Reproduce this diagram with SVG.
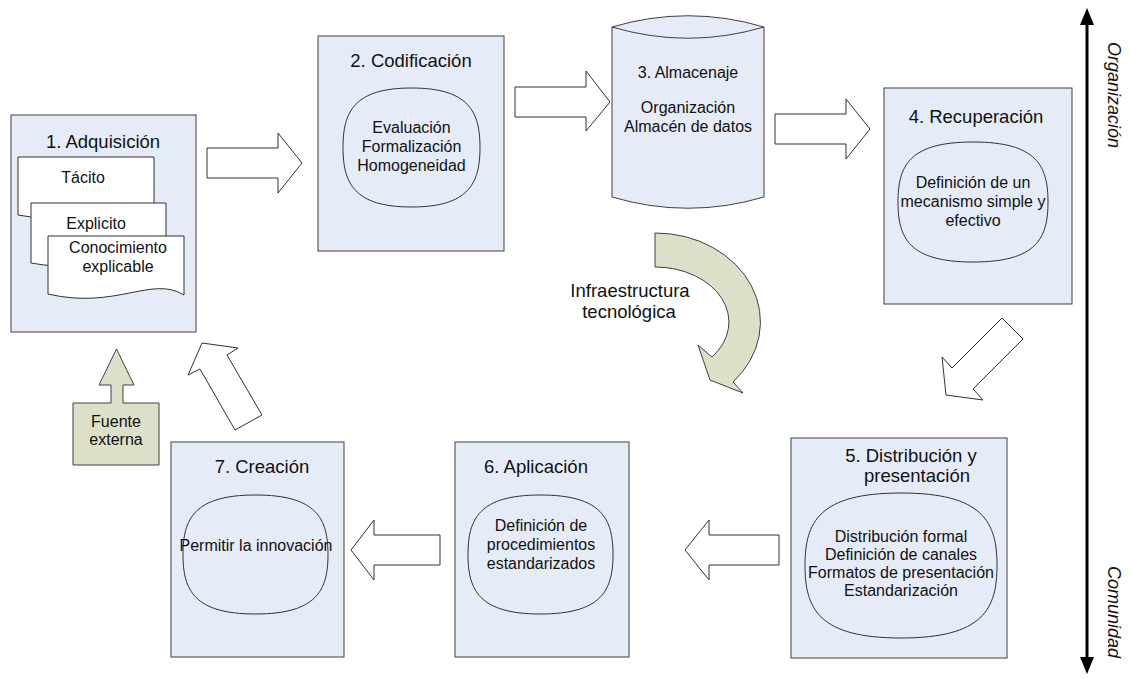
<svg xmlns="http://www.w3.org/2000/svg" width="1131" height="679" viewBox="0 0 1131 679">
  <style>
    .box { fill: #e6ecf7; stroke: #404040; stroke-width: 1; }
    .oval { fill: #e6ecf7; stroke: #303030; stroke-width: 1; }
    .doc { fill: #ffffff; stroke: #303030; stroke-width: 1; }
    .blk { fill: #ffffff; stroke: #303030; stroke-width: 1; stroke-linejoin: miter; }
    .sage { fill: #dde0c8; stroke: #404040; stroke-width: 1; }
    text { font-family: "Liberation Sans", Arial, sans-serif; fill: #111111; text-anchor: middle; }
    .title { font-size: 18.5px; }
    .body { font-size: 16px; }
    .axis { font-size: 18px; font-style: italic; }
  </style>

  <!-- 1. Adquisición -->
  <g id="n1-adquisicion">
    <rect class="box" x="11" y="115" width="185" height="217"/>
    <text class="title" x="103" y="148">1. Adquisición</text>
    <path class="doc" d="M18,157 H154 V213 C122,193 86,228 18,215 Z"/>
    <text class="body" x="83" y="183">Tácito</text>
    <path class="doc" d="M31,203 H166 V261 C134,241 98,276 31,263 Z"/>
    <text class="body" x="96" y="229">Explicito</text>
    <path class="doc" d="M48,236 H184 V295 C152,275 116,310 48,294 Z"/>
    <text class="body" x="118" y="253">Conocimiento</text>
    <text class="body" x="118" y="272">explicable</text>
  </g>

  <!-- 2. Codificación -->
  <g id="n2-codificacion">
    <rect class="box" x="318" y="36" width="186" height="215"/>
    <text class="title" x="411" y="67">2. Codificación</text>
    <path class="oval" d="M411.5,88 C469,88 480,112 480,147.5 C480,183 469,207 411.5,207 C354,207 343,183 343,147.5 C343,112 354,88 411.5,88 Z"/>
    <text class="body" x="411.5" y="133">Evaluación</text>
    <text class="body" x="411.5" y="152">Formalización</text>
    <text class="body" x="411.5" y="171">Homogeneidad</text>
  </g>

  <!-- 3. Almacenaje (cylinder) -->
  <g id="n3-almacenaje">
    <path class="box" d="M612,27 A268,268 0 0 1 764,27 V197 A268,268 0 0 1 612,197 Z"/>
    <path fill="none" stroke="#404040" stroke-width="1" d="M612,27 A268,268 0 0 0 764,27"/>
    <text class="body" x="688" y="78">3. Almacenaje</text>
    <text class="body" x="688" y="113">Organización</text>
    <text class="body" x="688" y="132">Almacén de datos</text>
  </g>

  <!-- 4. Recuperación -->
  <g id="n4-recuperacion">
    <rect class="box" x="884" y="88" width="188" height="216"/>
    <text class="title" x="976" y="123">4. Recuperación</text>
    <path class="oval" d="M973,142 C1037,142 1048,166 1048,202 C1048,238 1037,262 973,262 C909,262 898,238 898,202 C898,166 909,142 973,142 Z"/>
    <text class="body" x="973" y="188">Definición de un</text>
    <text class="body" x="973" y="207">mecanismo simple y</text>
    <text class="body" x="973" y="226">efectivo</text>
  </g>

  <!-- 5. Distribución y presentación -->
  <g id="n5-distribucion">
    <rect class="box" x="791" y="438" width="216" height="220"/>
    <text class="title" x="911" y="462">5. Distribución y</text>
    <text class="title" x="917" y="482">presentación</text>
    <path class="oval" d="M901,493 C983,493 997,522 997,565.5 C997,609 983,638 901,638 C819,638 805,609 805,565.5 C805,522 819,493 901,493 Z"/>
    <text class="body" x="901" y="542">Distribución formal</text>
    <text class="body" x="901" y="560">Definición de canales</text>
    <text class="body" x="901" y="578">Formatos de presentación</text>
    <text class="body" x="901" y="596">Estandarización</text>
  </g>

  <!-- 6. Aplicación -->
  <g id="n6-aplicacion">
    <rect class="box" x="455" y="442" width="174" height="215"/>
    <text class="title" x="536" y="473">6. Aplicación</text>
    <path class="oval" d="M540.5,495 C602,495 613,519 613,554.5 C613,590 602,614 540.5,614 C479,614 468,590 468,554.5 C468,519 479,495 540.5,495 Z"/>
    <text class="body" x="541" y="531">Definición de</text>
    <text class="body" x="541" y="550">procedimientos</text>
    <text class="body" x="541" y="569">estandarizados</text>
  </g>

  <!-- 7. Creación -->
  <g id="n7-creacion">
    <rect class="box" x="171" y="442" width="173" height="215"/>
    <text class="title" x="262" y="473">7. Creación</text>
    <path class="oval" d="M255.5,495 C317,495 328,519 328,554.5 C328,590 317,614 255.5,614 C194,614 183,590 183,554.5 C183,519 194,495 255.5,495 Z"/>
    <text class="body" x="256" y="551">Permitir la innovación</text>
  </g>

  <!-- Fuente externa -->
  <g id="fuente-externa">
    <path class="sage" d="M73,403 H111 V385 H99 L116.5,349 L134,385 H123 V403 H159 V465 H73 Z"/>
    <text class="body" x="116" y="427">Fuente</text>
    <text class="body" x="116" y="445">externa</text>
  </g>

  <!-- Infraestructura tecnológica -->
  <g id="infraestructura">
    <path class="sage" d="M655,233 A105,89 0 0 1 733,382 L743,393 L710,380 L698,345 L712,357 A74,55 0 0 0 655,267 Z"/>
    <text class="title" x="630" y="297">Infraestructura</text>
    <text class="title" x="629" y="318">tecnológica</text>
  </g>

  <!-- Flow arrows between stages -->
  <g id="connectors">
    <polygon class="blk" points="207,148 278,148 278,133 302,163 278,193 278,178 207,178"/>
    <polygon class="blk" points="515,87 586,87 586,71 610,102 586,131 586,117 515,117"/>
    <polygon class="blk" points="775,114 846,114 846,99 870,129 846,159 846,144 775,144"/>
    <polygon class="blk" points="1002,318 1023,339 973,389 983,400 946,395 942,357 952,368"/>
    <polygon class="blk" points="779,535 709,535 709,520 685,550 709,580 709,565 779,565"/>
    <polygon class="blk" points="440,535 374,535 374,520 351,550 374,580 374,565 440,565"/>
    <polygon class="blk" points="202,343 238,348 227,355 262,415 235,430 200,369 188,375"/>
  </g>

  <!-- Organización / Comunidad axis -->
  <g id="axis">
    <line x1="1087" y1="22" x2="1087" y2="660" stroke="#000000" stroke-width="3"/>
    <polygon points="1087,8 1094,25 1080,25" fill="#000000"/>
    <polygon points="1087,674 1094,657 1080,657" fill="#000000"/>
    <text class="axis" transform="translate(1108,95) rotate(90)">Organización</text>
    <text class="axis" transform="translate(1108,612) rotate(90)">Comunidad</text>
  </g>
</svg>
